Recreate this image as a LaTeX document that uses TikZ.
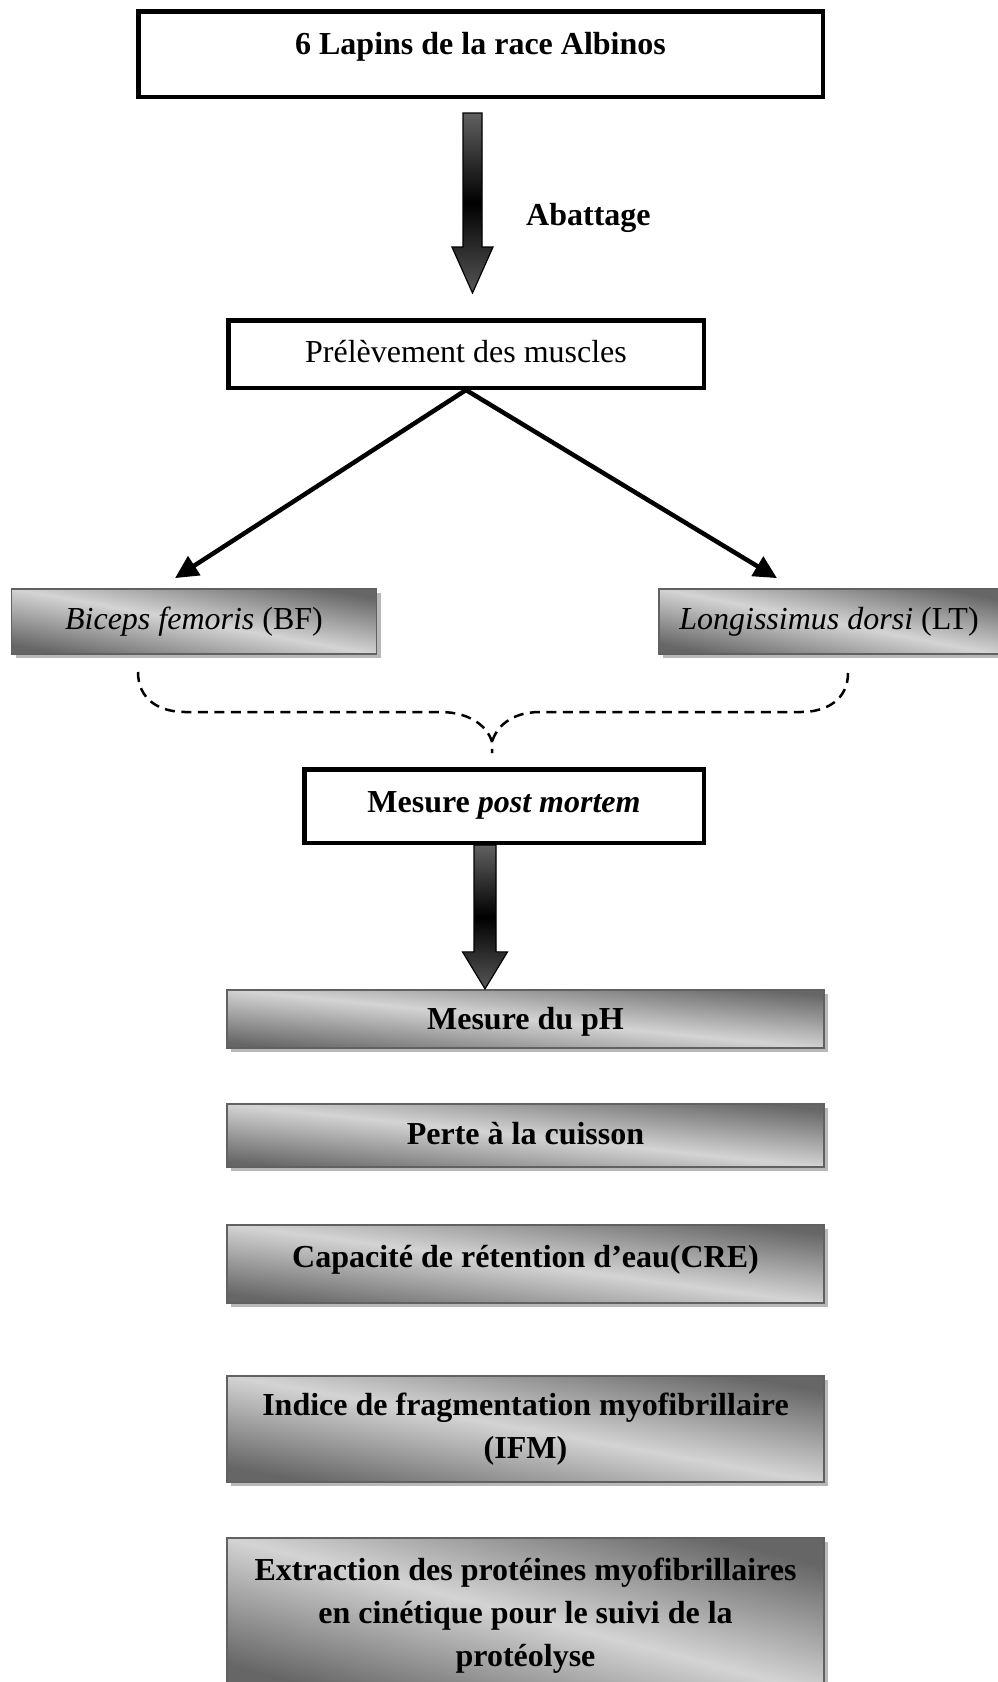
\documentclass[tikz,border=0pt]{standalone}
\usepackage{fontspec}
\setmainfont{Liberation Serif}
\usetikzlibrary{arrows.meta,calc,shadows}

\tikzset{
  thickbox/.style={draw, line width=4.5pt, inner sep=0pt},
  graybox/.style={draw=black!62, line width=1.8pt, inner sep=0pt, align=center,
    top color=black!60, bottom color=black!60, middle color=black!17,
    shading angle=#1,
    drop shadow={shadow xshift=4pt, shadow yshift=-4pt, fill=black!28, opacity=1}},
  graybox/.default=-6,
  oneline/.style={text height=22pt, text depth=#1},
  oneline/.default=4pt,
  boldtxt/.style={font=\fontsize{32}{43}\selectfont\bfseries},
  thinarrow/.style={line width=4.5pt, -{Triangle[length=23pt,width=22pt]}},
  dashline/.style={line width=2.5pt, dash pattern=on 10pt off 6.5pt},
  fatbody/.style={top color=black!62, bottom color=black!66, middle color=black},
}

% block arrow: start, tip, half shaft, half head, head length
\newcommand{\fatshape}[5]{let \p1=(#1), \p2=(#2) in
  (\x1-#3pt,\y1) -- (\x1+#3pt,\y1) -- (\x1+#3pt,\y2+#5pt) -- (\x1+#4pt,\y2+#5pt)
  -- (\x2,\y2) -- (\x1-#4pt,\y2+#5pt) -- (\x1-#3pt,\y2+#5pt) -- cycle}
\newcommand{\fatarrow}[5]{%
  \fill[black!38, xshift=3.5pt, yshift=-3.5pt] \fatshape{#1}{#2}{#3}{#4}{#5};
  \shadedraw[fatbody, line width=1.2pt] \fatshape{#1}{#2}{#3}{#4}{#5};
}

\begin{document}
\begin{tikzpicture}[x=1pt, y=-1pt, font=\fontsize{32}{43}\selectfont]
  \useasboundingbox (0,0) rectangle (998,1682);
  \clip (0,0) rectangle (998,1682);

  % top part
  \node[thickbox, boldtxt, minimum width=684.5pt, minimum height=85.5pt,
    text height=20pt, text depth=20pt] (top) at (480.5,54) {6 Lapins de la race Albinos};
  \node[thickbox, minimum width=475.5pt, minimum height=67.5pt,
    text height=22pt, text depth=6pt] (prel) at (466,354) {Prélèvement des muscles};
  \node[boldtxt, anchor=base west, inner sep=0pt] (abat) at (526,225) {Abattage};

  \coordinate (a1s) at ($(top.south)+(-8,14)$);
  \coordinate (a1e) at ($(prel.north)+(6.5,-25)$);
  \fatarrow{a1s}{a1e}{9.5}{20.5}{46}

  % muscles
  \node[graybox=-10.3, oneline=6pt, minimum width=365pt, minimum height=65pt] (bf)
    at (194,621.5) {\textit{Biceps femoris} (BF)};
  \node[graybox=-11, oneline=6pt, minimum width=340pt, minimum height=65pt] (lt)
    at (829,621.5) {\textit{Longissimus dorsi} (LT)};

  \coordinate (bfin) at ($(bf.north)+(-19,-10)$);
  \coordinate (ltin) at ($(lt.north)+(-52,-10)$);
  \draw[thinarrow] (prel.south) -- (bfin);
  \draw[thinarrow] (prel.south) -- (ltin);

  % dashed brace
  \coordinate (bl) at (138,672);
  \coordinate (br) at (848,673);
  \coordinate (cusp) at (492,742);
  \coordinate (tail) at (492,753);
  \draw[dashline] (bl) .. controls (138,700) and (160,712) .. (185,712) -- (440,712)
    .. controls (472,712) and (488,728) .. (cusp) -- (tail);
  \draw[dashline] (br) .. controls (848,700) and (826,712) .. (801,712) -- (540,712)
    .. controls (510,712) and (496,728) .. (cusp);

  % measures
  \node[thickbox, boldtxt, minimum width=399.5pt, minimum height=73.5pt,
    text height=22pt, text depth=9pt] (mesure) at (504,806) {Mesure \textit{post mortem}};

  \node[graybox=-5.7, boldtxt, oneline=1pt, minimum width=597pt, minimum height=58.5pt] (ph)
    at (525.5,1019) {Mesure du pH};
  \node[graybox=-6.1, boldtxt, oneline=4pt, minimum width=597pt, minimum height=63pt] (perte)
    at (525.5,1135.5) {Perte à la cuisson};
  \node[graybox=-7.6, boldtxt, oneline=15pt, minimum width=597pt, minimum height=78pt] (cre)
    at (525.5,1264) {Capacité de rétention d’eau(CRE)};
  \node[graybox=-10.2, boldtxt, minimum width=597pt, minimum height=106pt] (ifm)
    at (525.5,1429) {Indice de fragmentation myofibrillaire\\(IFM)};
  \node[graybox=-14.7, boldtxt, minimum width=597pt, minimum height=155pt] (extr)
    at (525.5,1615.5) {Extraction des protéines myofibrillaires\\en cinétique pour le suivi de la\\protéolyse};

  \coordinate (a2s) at ($(mesure.south)+(-19,0)$);
  \coordinate (a2e) at ($(ph.north)+(-40.5,0)$);
  \fatarrow{a2s}{a2e}{11}{22.5}{37}
\end{tikzpicture}
\end{document}
